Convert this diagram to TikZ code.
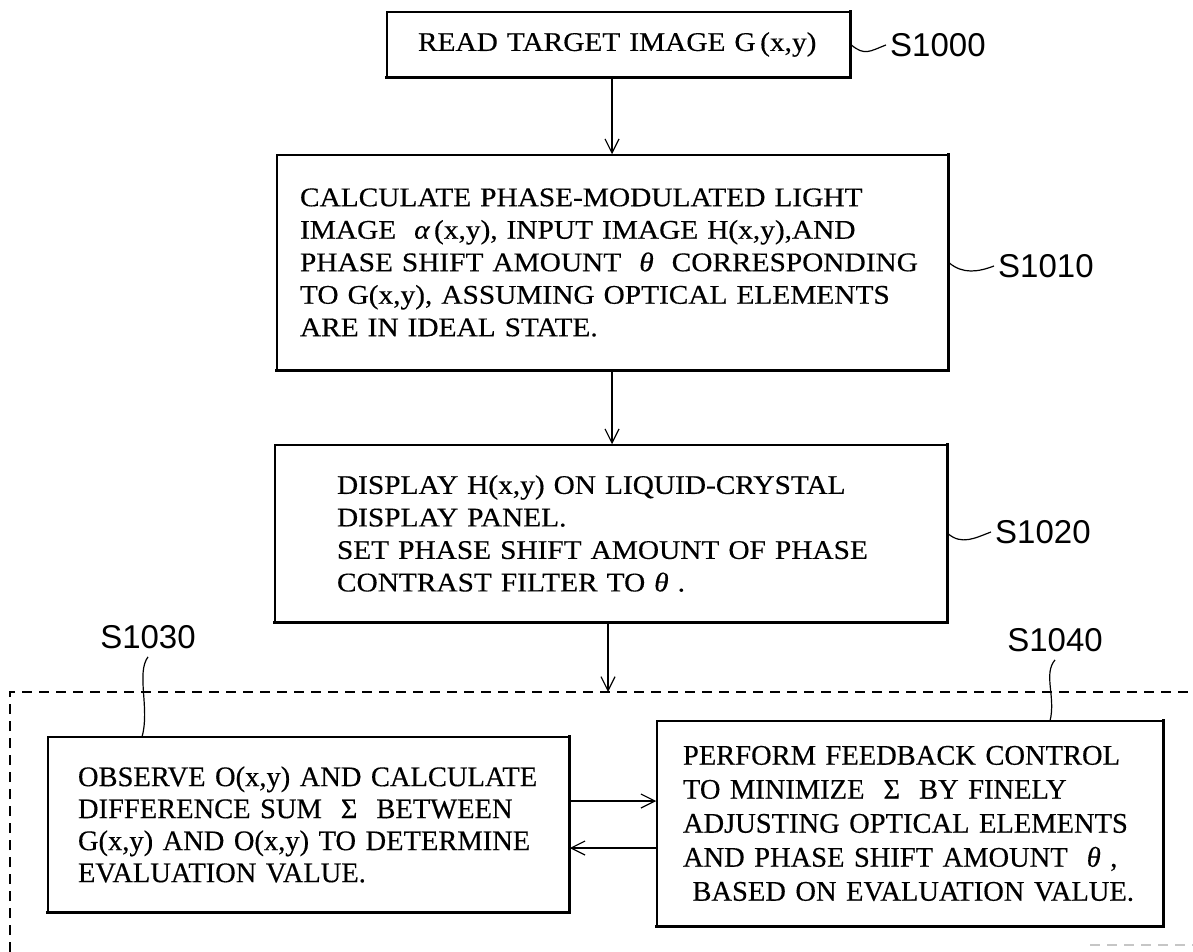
\documentclass[tikz,border=0pt]{standalone}
\usepackage{fontspec}
\setmainfont[FakeBold=0.35]{Liberation Serif}
\newfontfamily\wideserif[FakeStretch=1.087,FakeBold=0.35]{Liberation Serif}
\newfontfamily\labelfont{Liberation Sans}
\usetikzlibrary{arrows.meta}
\tikzset{
  topbox/.style={draw, line width=1.5pt, align=left, inner ysep=0pt,
    font={\wideserif\fontsize{27}{32.5}\selectfont}},
  botbox/.style={draw, line width=1.5pt, align=left, inner ysep=0pt,
    font={\fontsize{28.5}{32}\selectfont}},
  heavy/.style={line width=3.2pt, line cap=rect},
  arr/.style={line width=1.2pt, -{Straight Barb[length=14pt,width=14pt,line width=1.2pt]}},
  lbl/.style={font={\labelfont\fontsize{33}{36}\selectfont}, inner sep=0pt},
  wave/.style={line width=1.2pt},
  dashline/.style={line width=1.4pt, dash pattern=on 10pt off 7pt}
}
\begin{document}
\begin{tikzpicture}[x=1pt,y=-1pt]
\useasboundingbox[fill=white] (0,0) rectangle (1193,952);

% main boxes
\node[topbox, minimum width=463pt, minimum height=65pt, text width=401pt, inner xsep=31pt] (b1) at (618.5,44.5)
  {READ TARGET IMAGE G\,(x,y)};
\node[topbox, minimum width=671pt, minimum height=215pt, text width=625pt, inner xsep=23pt] (b2) at (612.5,262.5)
  {CALCULATE PHASE-MODULATED LIGHT\\
   IMAGE \ {\itshape α}\,(x,y), INPUT IMAGE H(x,y),AND\\
   PHASE SHIFT AMOUNT \ {\itshape θ} \ CORRESPONDING\\
   TO G(x,y), ASSUMING OPTICAL ELEMENTS\\
   ARE IN IDEAL STATE.};
\node[topbox, minimum width=672pt, minimum height=177pt, text width=548pt, inner xsep=62pt] (b3) at (611,533.5)
  {DISPLAY H(x,y) ON LIQUID-CRYSTAL\\
   DISPLAY PANEL.\\
   SET PHASE SHIFT AMOUNT OF PHASE\\
   CONTRAST FILTER TO {\itshape θ} .};
\node[botbox, minimum width=521pt, minimum height=175pt, text width=461pt, inner xsep=30pt] (b4) at (308.5,824.5)
  {OBSERVE O(x,y) AND CALCULATE\\
   DIFFERENCE SUM \ Σ \ BETWEEN\\
   G(x,y) AND O(x,y) TO DETERMINE\\
   EVALUATION VALUE.};
\node[botbox, font={\fontsize{28.5}{34}\selectfont}, minimum width=506pt, minimum height=205pt, text width=454pt, inner xsep=26pt] (b5) at (910,823.5)
  {PERFORM FEEDBACK CONTROL\\
   TO MINIMIZE \ Σ \ BY FINELY\\
   ADJUSTING OPTICAL ELEMENTS\\
   AND PHASE SHIFT AMOUNT \ {\itshape θ} ,\\
   \ BASED ON EVALUATION VALUE.};

\foreach \n in {b1,b2,b3,b4,b5}
  \draw[heavy] (\n.north east) -- (\n.south east) -- (\n.south west);

% step labels
\node[lbl, anchor=west] (l1000) at (890,45) {S1000};
\node[lbl, anchor=west] (l1010) at (998,266) {S1010};
\node[lbl, anchor=west] (l1020) at (995,532) {S1020};
\node[lbl] (l1030) at (148,637) {S1030};
\node[lbl] (l1040) at (1055,640) {S1040};

\draw[wave] (b1.east) .. controls +(14,12) and +(-16,6) .. ([xshift=-4pt]l1000.west);
\draw[wave] (b2.east) .. controls +(14,12) and +(-16,6) .. ([xshift=-4pt]l1010.west);
\draw[wave] (b3.east) .. controls +(14,12) and +(-16,6) .. ([xshift=-4pt]l1020.west);
\coordinate (w30) at (142,737);
\coordinate (w40) at (1050,721);
\draw[wave] ([yshift=-8pt]l1030.south) .. controls +(-12,16) and +(8,-28) .. (w30);
\draw[wave] ([yshift=-8pt]l1040.south) .. controls +(-12,14) and +(6,-24) .. (w40);

% dashed enclosure
\coordinate (dtl) at (10,692);
\coordinate (dtr) at (1193,692);
\coordinate (dbl) at (10,952);
\coordinate (dbr1) at (1090,945);
\coordinate (dbr2) at (1193,945);
\draw[dashline] (dbl) -- (dtl) -- (dtr);
\draw[dashline, gray!45] (dbr1) -- (dbr2);

% flow arrows
\coordinate (ax) at (612,0);
\coordinate (d3) at (608,692);
\draw[arr] (b1.south -| ax) -- (b2.north -| ax);
\draw[arr] (b2.south -| ax) -- (b3.north -| ax);
\draw[arr] (b3.south -| d3) -- (d3);
\coordinate (ar1) at (0,801);
\coordinate (ar2) at (0,848);
\draw[arr] (b4.east |- ar1) -- (b5.west |- ar1);
\draw[arr] (b5.west |- ar2) -- (b4.east |- ar2);
\end{tikzpicture}
\end{document}
